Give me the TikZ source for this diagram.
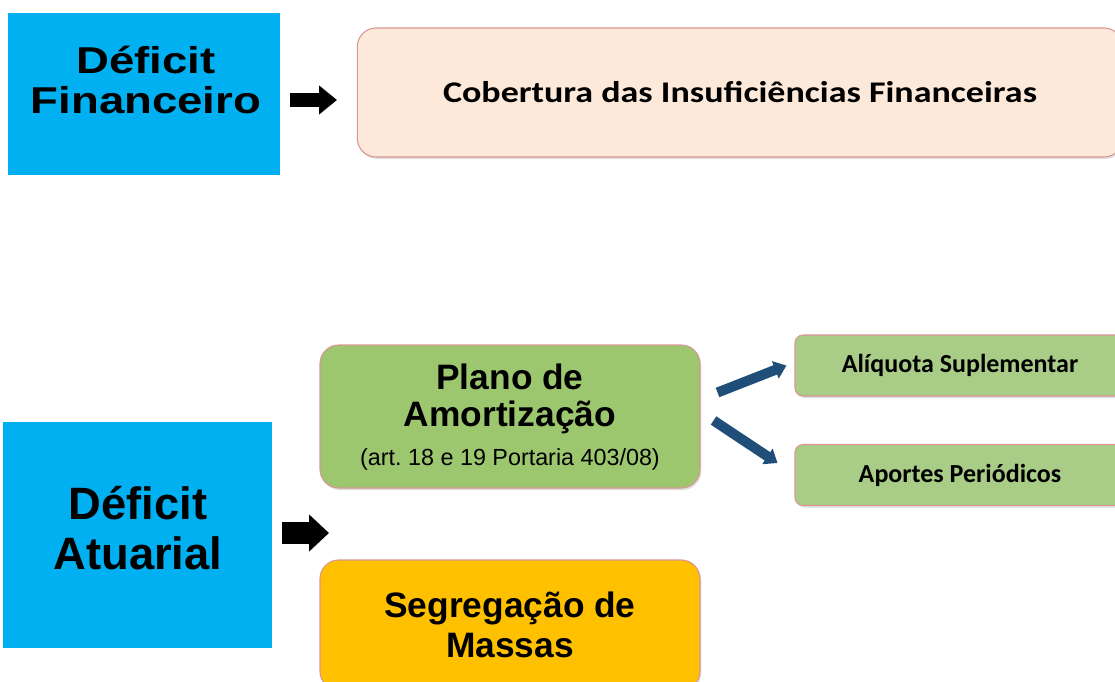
\documentclass[tikz,border=0pt]{standalone}
\usepackage{fontspec}
\setmainfont{Liberation Sans}
\newfontfamily\calfont{Carlito}
\newfontfamily\calwide[FakeStretch=1.2]{Carlito}
\newfontfamily\widefont[FakeStretch=1.22]{Liberation Sans}
\usetikzlibrary{arrows.meta,shadows}

\definecolor{deficitblue}{HTML}{00B0F0}
\definecolor{peach}{HTML}{FDE9D9}
\definecolor{salmon}{HTML}{D99694}
\definecolor{planogreen}{HTML}{9DC76E}
\definecolor{lightgreen}{HTML}{A9CD87}
\definecolor{amber}{HTML}{FFC000}
\definecolor{navyarrow}{HTML}{1F4E79}

\tikzset{
    deficitbox/.style={fill=deficitblue, draw=none, align=center, inner sep=0pt},
    roundbox/.style={draw=salmon, line width=0.8pt, align=center, inner sep=0pt,
        drop shadow={opacity=0.25, shadow xshift=1pt, shadow yshift=-1.5pt}},
    blockarrow/.style n args={3}{draw=black, line width=#1, -{Triangle[length=#2, width=#3]}},
    bluearrow/.style={draw=navyarrow, line width=7.5pt, -{Triangle[length=9pt, width=13.5pt]}},
}

\begin{document}
\begin{tikzpicture}[x=0.75pt, y=-0.75pt]
    \useasboundingbox[clip] (0,0) rectangle (1115,682);
    \frenchspacing

    % top row
    \node[deficitbox, minimum width=204pt, minimum height=121.5pt] (finbox) at (144,94) {};
    \node[align=center, font=\widefont\bfseries\fontsize{28}{30}\selectfont] (fintext) at (146,80) {Déficit\\Financeiro};
    \node[roundbox, fill=peach, rounded corners=14pt, minimum width=574pt, minimum height=96.75pt,
        font=\calwide\bfseries\fontsize{22.5}{25}\selectfont] (cobbox) at (740,92.5) {Cobertura das Insuficiências Financeiras};
    \coordinate (finarrow) at (290,100);
    \draw[blockarrow={10.5pt}{13.5pt}{21pt}] (finarrow) -- ++(47,0) coordinate (finarrowtip);

    % bottom row
    \node[deficitbox, minimum width=201.75pt, minimum height=169.5pt] (atubox) at (137.5,535) {};
    \node[align=center, font=\bfseries\fontsize{34}{38}\selectfont] (atutext) at (138,528) {Déficit\\Atuarial};
    \node[roundbox, fill=planogreen, rounded corners=14pt, minimum width=285pt, minimum height=107.25pt,
        font=\bfseries\fontsize{26.5}{28}\selectfont] (planobox) at (510,416.5)
        {\\[-8pt]Plano de\\Amortização\\[1pt]{\mdseries\fontsize{17.5}{20}\selectfont(art. 18 e 19 Portaria 403/08)}};
    \node[roundbox, fill=amber, rounded corners=14pt, minimum width=285pt, minimum height=97.5pt,
        font=\bfseries\fontsize{26.5}{29.5}\selectfont] (segbox) at (510,625) {Segregação de\\Massas};
    \node[roundbox, fill=lightgreen, rounded corners=6pt, minimum width=247.5pt, minimum height=45.75pt,
        font=\calfont\bfseries\fontsize{19.5}{22}\selectfont] (aliqbox) at (960,365.5) {Alíquota Suplementar};
    \node[roundbox, fill=lightgreen, rounded corners=6pt, minimum width=247.5pt, minimum height=45.75pt,
        font=\calfont\bfseries\fontsize{19.5}{22}\selectfont] (aportbox) at (960,475) {Aportes Periódicos};

    \coordinate (atuarrow) at (282,533);
    \draw[blockarrow={17pt}{15pt}{27pt}] (atuarrow) -- ++(47,0) coordinate (atuarrowtip);

    \draw[bluearrow] ([shift={(17,-24)}]planobox.east) -- ([shift={(-8,0)}]aliqbox.west);
    \draw[bluearrow] ([shift={(13,4)}]planobox.east) -- ([shift={(-17,-12)}]aportbox.west);
\end{tikzpicture}
\end{document}
